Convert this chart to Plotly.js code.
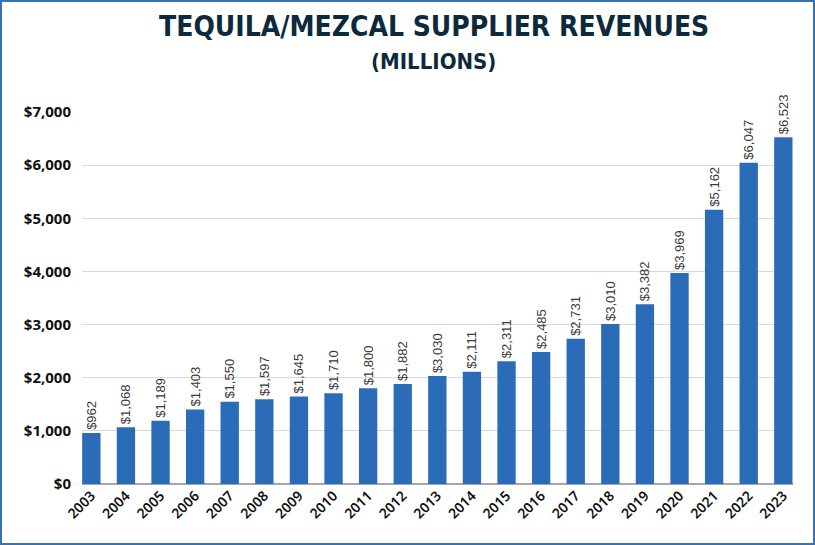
<!DOCTYPE html>
<html>
<head>
<meta charset="utf-8">
<script src="https://cdn.plot.ly/plotly-3.0.1.min.js"></script>
<style>
  html, body { margin: 0; padding: 0; background: #fff; }
  #wrap { position: relative; width: 815px; height: 545px; }
  #chart { width: 815px; height: 545px; }
  #frame { position: absolute; left: 0; top: 0; width: 815px; height: 545px; box-sizing: border-box; border: 2px solid #3a72ad; pointer-events: none; }
</style>
</head>
<body>
<div id="wrap">
  <div id="chart"></div>
  <div id="frame"></div>
</div>
<script>
const years = ["2003","2004","2005","2006","2007","2008","2009","2010","2011","2012","2013","2014","2015","2016","2017","2018","2019","2020","2021","2022","2023"];
const revenues = [962, 1068, 1189, 1403, 1550, 1597, 1645, 1710, 1800, 1882, 2030, 2111, 2311, 2485, 2731, 3010, 3382, 3969, 5162, 6047, 6523];
const valueLabels = ["$962","$1,068","$1,189","$1,403","$1,550","$1,597","$1,645","$1,710","$1,800","$1,882","$3,030","$2,111","$2,311","$2,485","$2,731","$3,010","$3,382","$3,969","$5,162","$6,047","$6,523"];
const yTickVals = [0, 1000, 2000, 3000, 4000, 5000, 6000, 7000];
const yTickText = ["$0","$1,000","$2,000","$3,000","$4,000","$5,000","$6,000","$7,000"];
const titleLine1 = "TEQUILA/MEZCAL SUPPLIER REVENUES";
const titleLine2 = "(MILLIONS)";

const trace = {
  type: 'bar',
  x: years,
  y: revenues,
  text: valueLabels,
  textposition: 'outside',
  textangle: -90,
  constraintext: 'none',
  cliponaxis: false,
  textfont: { family: 'Liberation Sans, Arial, sans-serif', size: 13, color: '#3a3a3a' },
  marker: { color: '#2b6cb9' },
  hoverinfo: 'x+y'
};

const titleFont = { family: 'DejaVu Sans Condensed, DejaVu Sans, sans-serif', color: '#0d2a3c', weight: 'bold' };

const layout = {
  width: 815,
  height: 545,
  paper_bgcolor: '#ffffff',
  plot_bgcolor: '#ffffff',
  margin: { l: 82, r: 22, t: 112, b: 61 },
  bargap: 0.47,
  showlegend: false,
  annotations: [
    {
      text: '<b>' + titleLine1 + '</b>',
      xref: 'paper', yref: 'paper', x: 0.495, y: 1.231,
      xanchor: 'center', yanchor: 'middle', showarrow: false,
      font: Object.assign({ size: 28 }, titleFont)
    },
    {
      text: '<b>' + titleLine2 + '</b>',
      xref: 'paper', yref: 'paper', x: 0.495, y: 1.137,
      xanchor: 'center', yanchor: 'middle', showarrow: false,
      font: Object.assign({ size: 22 }, titleFont)
    }
  ],
  xaxis: {
    type: 'category',
    range: [-0.27, 20.28],
    tickangle: -45,
    tickfont: { family: 'Noto Sans, sans-serif', size: 14, color: '#111111', weight: 600 },
    showgrid: false,
    showline: false,
    ticks: '',
    fixedrange: true
  },
  yaxis: {
    range: [0, 7000],
    tickvals: yTickVals,
    ticktext: yTickText,
    tickfont: { family: 'Noto Sans, sans-serif', size: 15, color: '#111111', weight: 'bold' },
    showgrid: true,
    gridcolor: '#d9d9d9',
    gridwidth: 1,
    zeroline: true,
    zerolinecolor: '#a6a6a6',
    zerolinewidth: 1.5,
    ticks: '',
    ticklabelstandoff: 10,
    fixedrange: true
  }
};

Plotly.newPlot('chart', [trace], layout, { displayModeBar: false, staticPlot: true });
</script>
</body>
</html>
